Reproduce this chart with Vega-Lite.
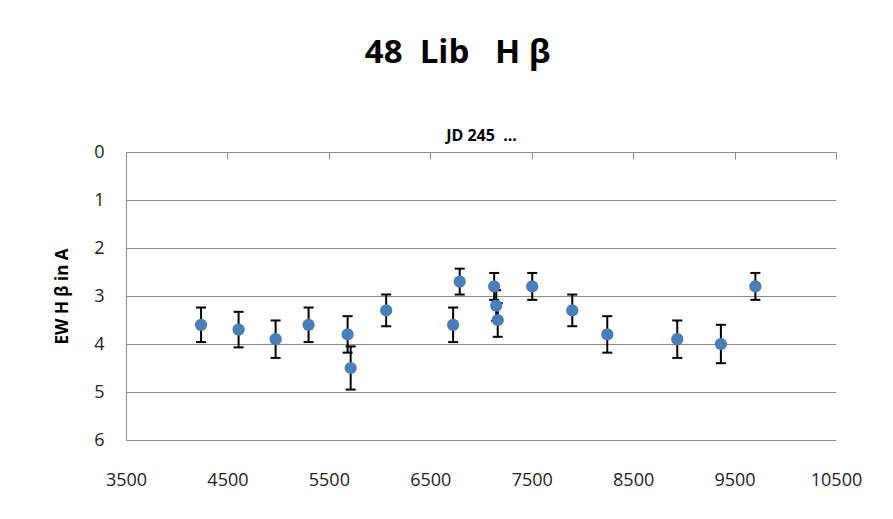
{
  "$schema": "https://vega.github.io/schema/vega-lite/v6.json",
  "width": 710,
  "height": 288,
  "autosize": {"type": "none"},
  "padding": {"left": 126, "top": 152, "right": 57, "bottom": 79},
  "background": "white",
  "title": {
    "text": "48\u00a0\u00a0Lib\u00a0\u00a0\u00a0H\u00a0β",
    "fontSize": 33,
    "fontWeight": "bold",
    "font": "Open Sans",
    "color": "black",
    "anchor": "middle",
    "frame": "bounds",
    "offset": 57
  },
  "config": {"view": {"stroke": null}, "font": "Open Sans"},
  "data": {
    "values": [
      {"jd": 4240, "ew": 3.6, "lo": 3.24, "hi": 3.96},
      {"jd": 4610, "ew": 3.7, "lo": 3.33, "hi": 4.07},
      {"jd": 4975, "ew": 3.9, "lo": 3.51, "hi": 4.29},
      {"jd": 5300, "ew": 3.6, "lo": 3.24, "hi": 3.96},
      {"jd": 5685, "ew": 3.8, "lo": 3.42, "hi": 4.18},
      {"jd": 5715, "ew": 4.5, "lo": 4.05, "hi": 4.95},
      {"jd": 6065, "ew": 3.3, "lo": 2.97, "hi": 3.63},
      {"jd": 6725, "ew": 3.6, "lo": 3.24, "hi": 3.96},
      {"jd": 6790, "ew": 2.7, "lo": 2.43, "hi": 2.97},
      {"jd": 7130, "ew": 2.8, "lo": 2.52, "hi": 3.08},
      {"jd": 7150, "ew": 3.2, "lo": 2.88, "hi": 3.52},
      {"jd": 7165, "ew": 3.5, "lo": 3.15, "hi": 3.85},
      {"jd": 7505, "ew": 2.8, "lo": 2.52, "hi": 3.08},
      {"jd": 7900, "ew": 3.3, "lo": 2.97, "hi": 3.63},
      {"jd": 8245, "ew": 3.8, "lo": 3.42, "hi": 4.18},
      {"jd": 8935, "ew": 3.9, "lo": 3.51, "hi": 4.29},
      {"jd": 9365, "ew": 4.0, "lo": 3.6, "hi": 4.4},
      {"jd": 9705, "ew": 2.8, "lo": 2.52, "hi": 3.08}
    ]
  },
  "resolve": {"axis": {"x": "independent"}},
  "layer": [
    {
      "mark": {"type": "rule", "color": "black", "strokeWidth": 2},
      "encoding": {
        "x": {
          "field": "jd", "type": "quantitative",
          "scale": {"domain": [3500, 10500], "nice": false, "zero": false},
          "axis": {
            "orient": "bottom", "format": "d",
            "values": [3500, 4500, 5500, 6500, 7500, 8500, 9500, 10500],
            "ticks": false, "domain": false, "grid": false, "title": null,
            "labelFontSize": 18, "labelColor": "#222", "labelPadding": 31,
            "labelFlush": false, "labelOverlap": false, "labelFont": "Open Sans"
          }
        },
        "y": {
          "field": "lo", "type": "quantitative",
          "scale": {"domain": [0, 6], "reverse": true, "nice": false, "zero": false},
          "axis": {
            "title": "EW H β in A", "values": [0, 1, 2, 3, 4, 5, 6],
            "grid": true, "gridColor": "#8c8c8c", "domainColor": "#8c8c8c",
            "ticks": false, "labelFontSize": 18, "labelColor": "#222",
            "labelPadding": 22, "labelOverlap": false, "labelFont": "Open Sans",
            "titleFontSize": 17, "titleFontWeight": "bold", "titleColor": "black",
            "titlePadding": 22, "titleFont": "Open Sans"
          }
        },
        "y2": {"field": "hi"}
      }
    },
    {
      "mark": {"type": "tick", "orient": "horizontal", "size": 10, "thickness": 2, "color": "black", "opacity": 1},
      "encoding": {
        "x": {
          "field": "jd", "type": "quantitative",
          "axis": {
            "orient": "bottom", "offset": -288,
            "values": [4500, 5500, 6500, 7500, 8500, 9500, 10500],
            "labels": false, "ticks": true, "tickSize": 7, "tickColor": "#8c8c8c",
            "domain": false, "grid": false, "title": null
          }
        },
        "y": {
          "field": "lo", "type": "quantitative",
          "axis": {
            "title": "EW H β in A", "values": [0, 1, 2, 3, 4, 5, 6],
            "grid": true, "gridColor": "#8c8c8c", "domainColor": "#8c8c8c",
            "ticks": false, "labelFontSize": 18, "labelColor": "#222",
            "labelPadding": 22, "labelOverlap": false, "labelFont": "Open Sans",
            "titleFontSize": 17, "titleFontWeight": "bold", "titleColor": "black",
            "titlePadding": 22, "titleFont": "Open Sans"
          }
        }
      }
    },
    {
      "mark": {"type": "tick", "orient": "horizontal", "size": 10, "thickness": 2, "color": "black", "opacity": 1},
      "encoding": {
        "x": {
          "field": "jd", "type": "quantitative",
          "axis": {
            "orient": "top", "labels": false, "ticks": false, "domain": false, "grid": false,
            "title": "JD 245\u00a0\u00a0...", "titleFontSize": 16, "titleFontWeight": "bold",
            "titleColor": "black", "titlePadding": 12, "titleBaseline": "alphabetic",
            "titleFont": "Open Sans"
          }
        },
        "y": {
          "field": "hi", "type": "quantitative",
          "axis": {
            "title": "EW H β in A", "values": [0, 1, 2, 3, 4, 5, 6],
            "grid": true, "gridColor": "#8c8c8c", "domainColor": "#8c8c8c",
            "ticks": false, "labelFontSize": 18, "labelColor": "#222",
            "labelPadding": 22, "labelOverlap": false, "labelFont": "Open Sans",
            "titleFontSize": 17, "titleFontWeight": "bold", "titleColor": "black",
            "titlePadding": 22, "titleFont": "Open Sans"
          }
        }
      }
    },
    {
      "mark": {"type": "circle", "size": 150, "color": "#4a7ebb", "opacity": 1},
      "encoding": {
        "x": {"field": "jd", "type": "quantitative", "axis": null},
        "y": {
          "field": "ew", "type": "quantitative",
          "axis": {
            "title": "EW H β in A", "values": [0, 1, 2, 3, 4, 5, 6],
            "grid": true, "gridColor": "#8c8c8c", "domainColor": "#8c8c8c",
            "ticks": false, "labelFontSize": 18, "labelColor": "#222",
            "labelPadding": 22, "labelOverlap": false, "labelFont": "Open Sans",
            "titleFontSize": 17, "titleFontWeight": "bold", "titleColor": "black",
            "titlePadding": 22, "titleFont": "Open Sans"
          }
        }
      }
    }
  ]
}
